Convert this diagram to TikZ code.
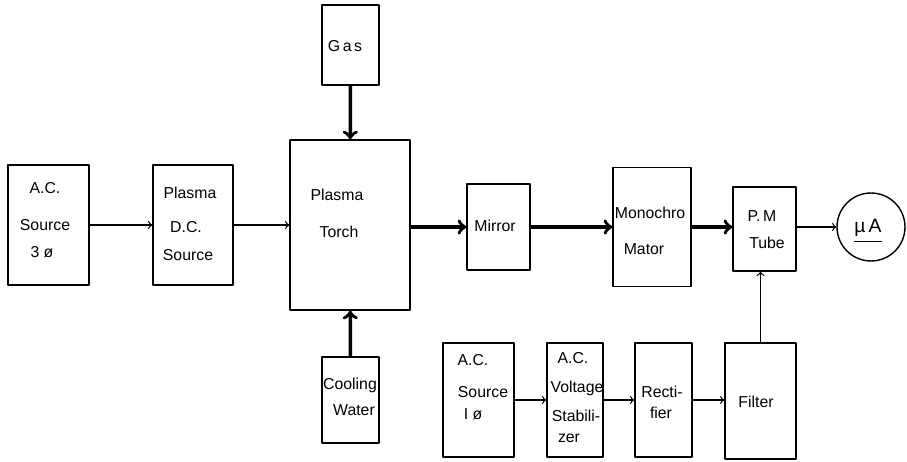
\documentclass[tikz,border=0pt]{standalone}
\usepackage{fontspec}
\setmainfont{Liberation Sans}
\begin{document}
\begin{tikzpicture}[>=to,x=0.02cm,y=-0.02cm,line cap=round,line join=round,
	font=\fontsize{9}{10}\selectfont,
	blk/.style={draw,line width=0.8pt,inner sep=0pt},
	flow/.style={->,line width=0.7pt},
	beam/.style={->,line width=2pt}]
				\useasboundingbox (0,0) rectangle (907,462);
				% blocks: name/x/y/width/height
				\foreach \n/\x/\y/\w/\h in {acs/48.5/225/1.62/2.4,dcs/193/225/1.6/2.4,torch/350/225/2.4/3.4,gas/350.5/45/1.14/1.6,cool/350.5/400/1.14/1.72,mirror/498.5/227/1.26/1.72,mono/652/227/1.56/2.38,pmt/764.5/229/1.26/1.68,acsone/478.5/400/1.42/2.28,vstab/575/400/1.12/2.28,rect/663.5/400/1.14/2.28,filt/760.5/401/1.42/2.32}
				\node[blk,minimum width=\w cm,minimum height=\h cm] (\n) at (\x,\y) {};
				\node[blk,circle,minimum size=1.36cm] (meter) at (871,227) {};
				% texts
				\foreach \x/\y/\t [count=\i] in {45/188/A.C.,45/225/Source,42/252/3 ø,190/193/Plasma,186/227/D.C.,188/255/Source,337/195/Plasma,339/232/Torch,345/46/G\,a\,s,350/385/Cooling,354/410/Water,495/226/Mirror,650/213/Monochro,644/249/Mator,762/216/P.\,M,767/243/Tube,473/360/A.C.,483/392/Source,473/414/I ø,573/358/A.C.,577/388/Voltage,576/416/Stabili-,569/438/zer,662/392/Recti-,661/413/fier,756/402/Filter}
				\node (lbl\i) at (\x,\y) {\t};
				\node[font=\fontsize{11}{12}\selectfont] (ua) at (868,230) {\underline{µ\,A\strut}};
				% connections
				\draw[flow] (acs) -- (dcs);
				\draw[flow] (dcs) -- (torch);
				\draw[beam] (gas) -- (torch);
				\draw[beam] (cool) -- (torch);
				\draw[beam] (torch.east |- mirror) -- (mirror);
				\draw[beam] (mirror) -- (mono);
				\draw[beam] (mono) -- (mono -| pmt.west);
				\draw[flow] (pmt.east |- meter) -- (meter);
				\draw[flow] (acsone) -- (vstab);
				\draw[flow] (vstab) -- (rect);
				\draw[flow] (rect) -- (rect -| filt.west);
				\draw[flow] (filt.north) -- (filt.north |- pmt.south);
			\end{tikzpicture}
\end{document}
